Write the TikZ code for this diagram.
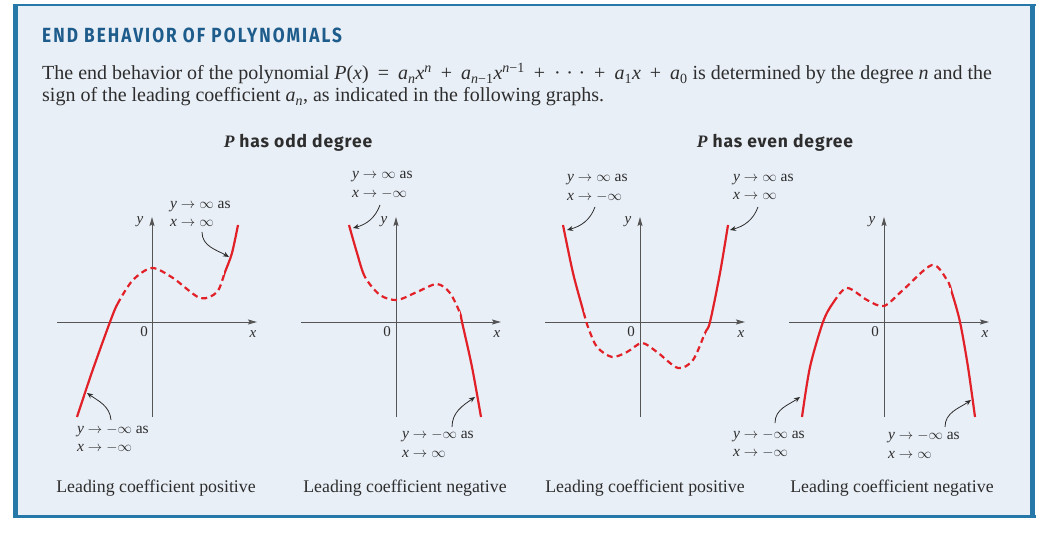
\documentclass[tikz,border=0pt]{standalone}
\usepackage{fontspec}
\setmainfont{Liberation Serif}
\newfontfamily\headsans{Fira Sans}[LetterSpace=5]
\newfontfamily\titlesans{Fira Sans}[FakeStretch=0.84, LetterSpace=10]
\usepackage{xcolor}
\usepackage{tikz}
\usetikzlibrary{arrows.meta, positioning}

\definecolor{framebl}{RGB}{38,120,168}
\definecolor{panelbg}{RGB}{233,239,247}
\definecolor{titlebl}{RGB}{30,92,140}
\definecolor{inkgray}{RGB}{45,45,45}
\definecolor{axisgray}{RGB}{85,85,85}
\definecolor{curvered}{RGB}{226,32,40}

\newcommand\pv[1]{\textit{#1}}
\newcommand\op[1]{\hspace{9pt}#1\hspace{9pt}}
% solid ends, dashed middle: #1 left switch, #2 right switch, #3 points
\newcommand\polycurve[3]{%
  \begin{scope}\clip (-130,-130) rectangle (#1,130);
    \draw[curve] plot[smooth] coordinates {#3};\end{scope}
  \begin{scope}\clip (#1,-130) rectangle (#2,130);
    \draw[curve, dash pattern=on 6pt off 4pt] plot[smooth] coordinates {#3};\end{scope}
  \begin{scope}\clip (#2,-130) rectangle (130,130);
    \draw[curve] plot[smooth] coordinates {#3};\end{scope}}

\tikzset{
  axis line/.style={draw=axisgray, line width=0.9pt, -{Stealth[length=9pt, width=5pt, inset=1.5pt]}},
  curve/.style={draw=curvered, line width=2.2pt},
  axis label/.style={font=\fontsize{15}{15}\selectfont, inner sep=0pt},
  endnote/.style={align=left, anchor=west, inner sep=0pt, font=\fontsize{15.5}{18.5}\selectfont},
  note arrow/.style={draw=inkgray, line width=0.8pt, -{Stealth[length=6pt, width=5pt]}},
  caption/.style={font=\fontsize{17.8}{19}\selectfont},
  headline/.style={font=\headsans\bfseries\fontsize{17.5}{20}\selectfont},
  intro/.style={anchor=base west, inner sep=0pt, font=\fontsize{20}{24}\selectfont}
}

\begin{document}
\begin{tikzpicture}[x=1pt, y=1pt, every node/.style={text=inkgray}]
  \useasboundingbox (0,0) rectangle (1039,-537);
  \fill[white] (0,0) rectangle (1039,-537);
  % panel
  \fill[panelbg] (15,-6) rectangle (1033,-516);
  \draw[framebl, line width=2pt] (13,-5.5) -- (1036,-5.5);
  \draw[framebl, line width=3pt] (13,-516) -- (1036,-516);
  \draw[framebl, line width=5pt] (15.5,-4.5) -- (15.5,-517.5);
  \draw[framebl, line width=5pt] (1032.5,-4.5) -- (1032.5,-517.5);

  \node[anchor=base west, inner sep=0pt, text=titlebl, font=\titlesans\bfseries\fontsize{20.5}{22}\selectfont] (title) at (42,-43) {END BEHAVIOR OF POLYNOMIALS};
  \node[intro] (intro1) at (42,-80) {The end behavior of the polynomial \pv{P}(\pv{x})\op{=}\pv{a}\textsubscript{\pv{n}}\pv{x}\textsuperscript{\pv{n}}\op{+}\pv{a}\textsubscript{\pv{n}−1}\pv{x}\textsuperscript{\pv{n}−1}\op{+}·\;·\;·\op{+}\pv{a}\textsubscript{1}\pv{x}\op{+}\pv{a}\textsubscript{0} is determined by the degree \pv{n} and the};
  \node[intro] (intro2) at (42,-102) {sign of the leading coefficient \pv{a}\textsubscript{\pv{n}}, as indicated in the following graphs.};

  \node[headline] (headodd) at (298,-143) {{\rmfamily\bfseries\itshape P} has odd degree};
  \node[headline] (headeven) at (775,-143) {{\rmfamily\bfseries\itshape P} has even degree};

  % odd degree, positive
  \begin{scope}[shift={(152,-322)}]
    \draw[axis line] (-95,0) -- (105,0);
    \draw[axis line] (0,-95) -- (0,105);
    \node[axis label] (g1o) at (-8,-10) {0};
    \node[axis label] (g1x) at (101,-12) {\pv{x}};
    \node[axis label] (g1y) at (-12,100) {\pv{y}};
    \polycurve{-33}{72}{(-75,-95) (-60,-50) (-42,0) (-34,19) (-19,42) (0,54) (21,44) (48,24) (65,30) (73,50) (80,69) (86,97)}
    \node[endnote] (g1up) at (18,108) {\pv{y} $\to\infty$ as\\\pv{x} $\to\infty$};
    \node[endnote] (g1down) at (-75,-117) {\pv{y} $\to-\infty$ as\\\pv{x} $\to-\infty$};
    \coordinate (g1a) at (50,90);
    \coordinate (g1b) at (77,65);
    \coordinate (g1c) at (-41,-98);
    \coordinate (g1d) at (-65,-71);
    \draw[note arrow] (g1a) to[out=-90, in=150] (g1b);
    \draw[note arrow] (g1c) to[out=95, in=-35] (g1d);
  \end{scope}

  % odd degree, negative
  \begin{scope}[shift={(396,-322)}]
    \draw[axis line] (-95,0) -- (105,0);
    \draw[axis line] (0,-95) -- (0,105);
    \node[axis label] (g2o) at (-9,-10) {0};
    \node[axis label] (g2x) at (101,-12) {\pv{x}};
    \node[axis label] (g2y) at (-12,100) {\pv{y}};
    \polycurve{-32}{64}{(-47,97) (-39,69) (-31,45) (-16,27) (1,22) (21,30) (41,38) (54,29) (64,9) (66,0) (76,-45) (85,-95)}
    \node[endnote] (g2up) at (-44,137) {\pv{y} $\to\infty$ as\\\pv{x} $\to-\infty$};
    \node[endnote] (g2down) at (6,-122) {\pv{y} $\to-\infty$ as\\\pv{x} $\to\infty$};
    \coordinate (g2a) at (-16,117);
    \coordinate (g2b) at (-43,94);
    \coordinate (g2c) at (56,-105);
    \coordinate (g2d) at (79,-75);
    \draw[note arrow] (g2a) to[out=-110, in=15] (g2b);
    \draw[note arrow] (g2c) to[out=90, in=215] (g2d);
  \end{scope}

  % even degree, positive
  \begin{scope}[shift={(640,-322)}]
    \draw[axis line] (-95,0) -- (105,0);
    \draw[axis line] (0,-95) -- (0,105);
    \node[axis label] (g3o) at (-9,-10) {0};
    \node[axis label] (g3x) at (101,-12) {\pv{x}};
    \node[axis label] (g3y) at (-12,100) {\pv{y}};
    \polycurve{-56}{65}{(-77,97) (-67,49) (-57,12) (-52,-5) (-43,-25) (-28,-35) (-13,-30) (2,-21) (17,-30) (38,-46) (53,-38) (65,-11) (70,0) (80,49) (88,97)}
    \node[endnote] (g3up) at (-73,134) {\pv{y} $\to\infty$ as\\\pv{x} $\to-\infty$};
    \node[endnote] (g3right) at (93,135) {\pv{y} $\to\infty$ as\\\pv{x} $\to\infty$};
    \coordinate (g3a) at (-45,115);
    \coordinate (g3b) at (-73,92);
    \coordinate (g3c) at (118,115);
    \coordinate (g3d) at (90,92);
    \draw[note arrow] (g3a) to[out=-110, in=15] (g3b);
    \draw[note arrow] (g3c) to[out=-110, in=15] (g3d);
  \end{scope}

  % even degree, negative
  \begin{scope}[shift={(884,-322)}]
    \draw[axis line] (-95,0) -- (105,0);
    \draw[axis line] (0,-95) -- (0,105);
    \node[axis label] (g4o) at (-9,-10) {0};
    \node[axis label] (g4x) at (101,-12) {\pv{x}};
    \node[axis label] (g4y) at (-12,100) {\pv{y}};
    \polycurve{-50}{67}{(-82,-95) (-74,-45) (-61,0) (-51,19) (-37,34) (-17,22) (0,16) (19,32) (48,57) (63,42) (68,29) (76,0) (84,-45) (91,-95)}
    \node[endnote] (g4left) at (-151,-122) {\pv{y} $\to-\infty$ as\\\pv{x} $\to-\infty$};
    \node[endnote] (g4down) at (4,-123) {\pv{y} $\to-\infty$ as\\\pv{x} $\to\infty$};
    \coordinate (g4a) at (-109,-101);
    \coordinate (g4b) at (-84,-75);
    \coordinate (g4c) at (61,-105);
    \coordinate (g4d) at (87,-78);
    \draw[note arrow] (g4a) to[out=90, in=215] (g4b);
    \draw[note arrow] (g4c) to[out=90, in=215] (g4d);
  \end{scope}

  \node[caption] (cap1) at (156,-488) {Leading coefficient positive};
  \node[caption] (cap2) at (405,-488) {Leading coefficient negative};
  \node[caption] (cap3) at (645,-488) {Leading coefficient positive};
  \node[caption] (cap4) at (892,-488) {Leading coefficient negative};
\end{tikzpicture}
\end{document}
